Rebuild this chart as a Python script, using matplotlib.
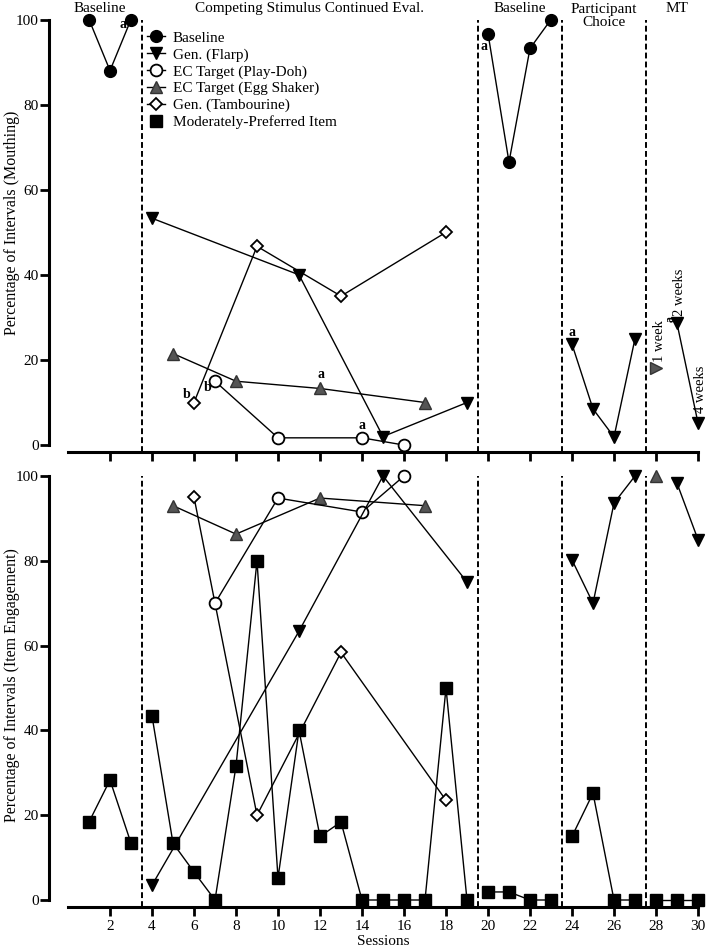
import numpy as np
import matplotlib
matplotlib.use("Agg")
import matplotlib.pyplot as plt
from matplotlib.lines import Line2D

plt.rcParams['font.family'] = ['Liberation Serif', 'DejaVu Serif']

# ---------------- data ----------------
phase_bounds = [3.5, 19.5, 23.5, 27.5]
phase_names = ["Baseline", "Competing Stimulus Continued Eval.", "Baseline",
               "Participant\nChoice", "MT"]
phase_centers = [1.5, 11.5, 21.5, 25.5, 29.0]
xticks = list(range(2, 31, 2))
yticks = [0, 20, 40, 60, 80, 100]

# Top panel: mouthing
m_base_x = [1, 2, 3, 20, 21, 22, 23]
m_base_y = [100, 88, 100, 96.7, 66.5, 93.2, 100]
m_flarp_x = [4, 11, 15, 19, 24, 25, 26, 27, 29, 30]
m_flarp_y = [53.3, 40, 2, 10, 23.7, 8.5, 1.9, 25, 28.6, 5.2]
m_play_x = [7, 10, 14, 16]
m_play_y = [15, 1.7, 1.7, 0]
m_egg_x = [5, 8, 12, 17]
m_egg_y = [21.5, 15, 13.3, 10]
m_egg_mt_x = [28]
m_egg_mt_y = [18]
m_tamb_x = [6, 9, 13, 18]
m_tamb_y = [10, 46.7, 35, 50]

# Bottom panel: item engagement
e_mp_x = [1, 2, 3, 4, 5, 6, 7, 8, 9, 10, 11, 12, 13, 14, 15, 16, 17, 18, 19,
          20, 21, 22, 23, 24, 25, 26, 27, 28, 29, 30]
e_mp_y = [18.4, 28.3, 13.4, 43.4, 13.4, 6.6, 0, 31.6, 80, 5.2, 40, 15, 18.4,
          0, 0, 0, 0, 50, 0, 1.9, 1.9, 0, 0, 15, 25.2, 0, 0, 0, 0, 0]
e_flarp_x = [4, 11, 15, 19, 24, 25, 26, 27, 29, 30]
e_flarp_y = [3.5, 63.4, 100, 75, 80.2, 70, 93.6, 100, 98.3, 85]
e_play_x = [7, 10, 14, 16]
e_play_y = [70, 94.8, 91.5, 100]
e_egg_x = [5, 8, 12, 17, 28]
e_egg_y = [93, 86.3, 94.8, 93, 100]
e_tamb_x = [6, 9, 13, 18]
e_tamb_y = [95, 20, 58.4, 23.5]

# ---------------- styles ----------------
EGG = '#555555'
styles = {
    'base':  dict(marker='o', ms=8.5, mfc='black', mec='black', mew=1),
    'flarp': dict(marker='v', ms=8.5, mfc='black', mec='black', mew=1),
    'play':  dict(marker='o', ms=8.5, mfc='white', mec='black', mew=1.3),
    'egg':   dict(marker='^', ms=8.5, mfc=EGG, mec='#333333', mew=1),
    'tamb':  dict(marker='D', ms=5.8, mfc='white', mec='black', mew=1.3),
    'mp':    dict(marker='s', ms=8.5, mfc='black', mec='black', mew=1),
}

W, H = 709, 949
XMIN, XMAX = -0.905, 30.25
AXW = 654.25


def axrect(x0, y0, x1, y1):
    return [x0 / W, 1 - y1 / H, (x1 - x0) / W, (y1 - y0) / H]


def plot_series(ax, xs, ys, key, z=3):
    xs = np.asarray(xs, float)
    ys = np.asarray(ys, float)
    ph = np.digitize(xs, phase_bounds)
    for p in np.unique(ph):
        m = ph == p
        ax.plot(xs[m], ys[m], color='black', lw=1, zorder=z, clip_on=False,
                **styles[key])


def style_axis(ax, ylow, labels_on):
    ax.set_xlim(XMIN, XMAX)
    ax.set_ylim(ylow, 100)
    for s in ['top', 'right']:
        ax.spines[s].set_visible(False)
    ax.spines['left'].set_bounds(0, 100)
    ax.spines['bottom'].set_bounds(0, 30)
    ax.spines['left'].set_linewidth(2.2)
    ax.spines['bottom'].set_linewidth(2.2)
    ax.set_xticks(xticks)
    ax.set_yticks(yticks)
    ax.tick_params(axis='both', direction='out', length=6.5, width=2,
                   labelsize=11)
    ax.tick_params(axis='y', pad=1)
    ax.tick_params(axis='x', pad=3)
    if not labels_on:
        ax.set_xticklabels([])
    for b in phase_bounds:
        ax.axvline(b, color='black', lw=1.4, ls=(0, (3, 1.6)), zorder=1)


fig = plt.figure(figsize=(W / 100, H / 100), dpi=100)
ax1 = fig.add_axes(axrect(49, 19.5, 703.25, 452.3))
ax2 = fig.add_axes(axrect(49, 476, 703.25, 907))
style_axis(ax1, -1.7, False)
style_axis(ax2, -1.65, True)

# ---- top panel ----
plot_series(ax1, m_tamb_x, m_tamb_y, 'tamb')
plot_series(ax1, m_egg_x, m_egg_y, 'egg')
plot_series(ax1, m_play_x, m_play_y, 'play')
plot_series(ax1, m_flarp_x, m_flarp_y, 'flarp')
plot_series(ax1, m_base_x, m_base_y, 'base')
st = dict(styles['egg'])
st['marker'] = '>'
ax1.plot(m_egg_mt_x, m_egg_mt_y, ls='none', zorder=3, clip_on=False, **st)

ann = dict(fontsize=10, ha='center', va='center', fontweight='bold')
ax1.text(2.6, 98.8, 'a', **ann)
ax1.text(19.8, 93.6, 'a', **ann)
ax1.text(5.67, 11.8, 'b', **ann)
ax1.text(6.67, 13.6, 'b', **ann)
ax1.text(12.05, 16.6, 'a', **ann)
ax1.text(14.0, 4.6, 'a', **ann)
ax1.text(24.0, 26.5, 'a', **ann)
ax1.text(28.68, 29.6, 'a', fontsize=8.5, ha='center', va='center', rotation=90,
         fontweight='bold')
ax1.text(28.15, 19.6, '1 week', rotation=90, ha='center', va='bottom', fontsize=10.5)
ax1.text(29.12, 30.3, '2 weeks', rotation=90, ha='center', va='bottom', fontsize=10.5)
ax1.text(30.1, 7.5, '4 weeks', rotation=90, ha='center', va='bottom', fontsize=10.5)

# phase titles
tr = ax1.get_xaxis_transform()
for name, cx in zip(phase_names, phase_centers):
    if '\n' in name:
        ax1.text(cx, 1.008, name, transform=tr, ha='center', va='center',
                 fontsize=11, linespacing=1.0)
    else:
        ax1.text(cx, 1.026, name, transform=tr, ha='center', va='center',
                 fontsize=11)

ax1.set_ylabel('Percentage of Intervals (Mouthing)', fontsize=11.5)
ax1.yaxis.set_label_coords((20 - 49) / AXW, 0.531)

# legend
handles = [
    Line2D([], [], color='black', lw=1, **styles['base']),
    Line2D([], [], color='black', lw=1, **styles['flarp']),
    Line2D([], [], color='black', lw=1, **styles['play']),
    Line2D([], [], color='black', lw=1, **styles['egg']),
    Line2D([], [], color='black', lw=1, **styles['tamb']),
    Line2D([], [], ls='none', **styles['mp']),
]
labels = ['Baseline', 'Gen. (Flarp)', 'EC Target (Play-Doh)',
          'EC Target (Egg Shaker)', 'Gen. (Tambourine)',
          'Moderately-Preferred Item']
ax1.legend(handles, labels, loc='upper left',
           bbox_to_anchor=(147 / W, 1 - 31 / H), bbox_transform=fig.transFigure,
           frameon=False, borderpad=0, borderaxespad=0, handlelength=1.2,
           handletextpad=0.5, labelspacing=0.2, fontsize=11)

# ---- bottom panel ----
plot_series(ax2, e_tamb_x, e_tamb_y, 'tamb')
plot_series(ax2, e_egg_x, e_egg_y, 'egg')
plot_series(ax2, e_play_x, e_play_y, 'play')
plot_series(ax2, e_flarp_x, e_flarp_y, 'flarp')
plot_series(ax2, e_mp_x, e_mp_y, 'mp')

ax2.set_ylabel('Percentage of Intervals (Item Engagement)', fontsize=11.5)
ax2.yaxis.set_label_coords((20 - 49) / AXW, 0.515)
ax2.set_xlabel('Sessions', fontsize=11, labelpad=1)
ax2.xaxis.label.set_x((15 - XMIN) / (XMAX - XMIN))

fig.savefig('out.png', dpi=100)
